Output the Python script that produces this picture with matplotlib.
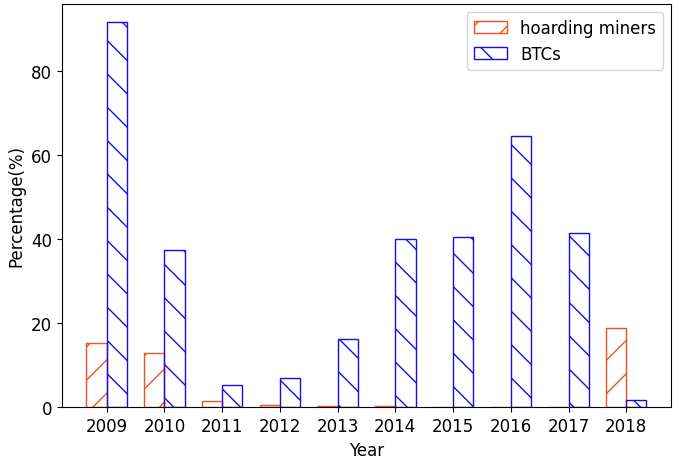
import numpy as np
import matplotlib
matplotlib.use('Agg')
import matplotlib.pyplot as plt

years = ['2009', '2010', '2011', '2012', '2013', '2014', '2015', '2016', '2017', '2018']
hoarding_miners = [15.2, 13.0, 1.5, 0.5, 0.4, 0.2, 0.1, 0.1, 0.0, 18.9]
btcs = [91.7, 37.4, 5.2, 6.9, 16.2, 40.0, 40.5, 64.5, 41.5, 1.8]

x = np.arange(len(years))
width = 0.35

fig, ax = plt.subplots(figsize=(6.85, 4.64), dpi=100)
ax.bar(x - width / 2, hoarding_miners, width, fill=False, edgecolor='#f4511e',
       hatch='/', label='hoarding miners')
ax.bar(x + width / 2, btcs, width, fill=False, edgecolor='#1010ee',
       hatch='\\', label='BTCs')

ax.set_xticks(x)
ax.set_xticklabels(years, fontsize=12)
ax.tick_params(axis='y', labelsize=12)
ax.set_xlabel('Year', fontsize=12)
ax.set_ylabel('Percentage(%)', fontsize=12)
ax.set_ylim(0, 96)
ax.set_xlim(-0.78, 9.78)
ax.legend(loc='upper right', fontsize=12)

plt.subplots_adjust(left=0.09, right=0.98, top=0.99, bottom=0.12)
plt.savefig('out.png')
